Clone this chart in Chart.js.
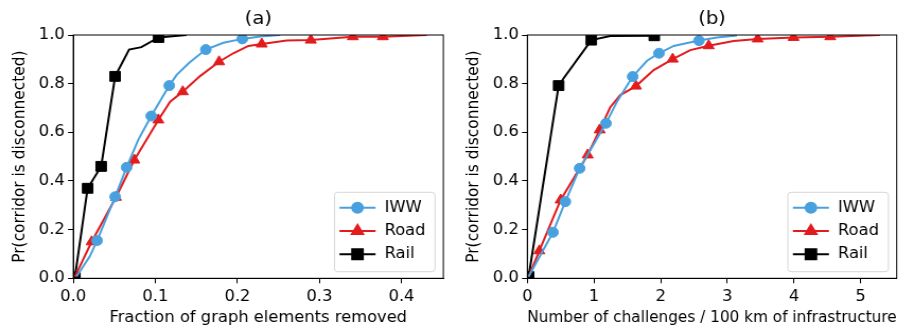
<!DOCTYPE html>
<html>
<head>
<meta charset="utf-8">
<script src="https://cdn.jsdelivr.net/npm/chart.js@4.4.1/dist/chart.umd.min.js"></script>
<style>
  html, body { margin: 0; padding: 0; background: #fff; overflow: hidden; }
  #wrap { position: relative; width: 914px; height: 331px; }
  .panel { position: absolute; top: 0; width: 431px; height: 331px; transform: scaleX(1.0603); transform-origin: 0 0; }
  .panel canvas { display: block; }
</style>
</head>
<body>
<div id="wrap">
  <div class="panel" style="left:0"><canvas id="chartA" width="431" height="331"></canvas></div>
  <div class="panel" style="left:457px"><canvas id="chartB" width="431" height="331"></canvas></div>
</div>
<script>
// ---------- data: (a) fraction of graph elements removed ----------
const iwwAX  = [0.004, 0.020, 0.029, 0.051, 0.065, 0.079, 0.095, 0.117, 0.126, 0.142, 0.1615, 0.183, 0.206, 0.228, 0.252];
const iwwAY  = [0.007, 0.089, 0.155, 0.335, 0.456, 0.568, 0.667, 0.792, 0.836, 0.888, 0.940, 0.968, 0.984, 0.994, 1.0];
const iwwAMarks = [2, 3, 4, 6, 7, 10, 12];

const roadAX = [0.002, 0.0224, 0.052, 0.0744, 0.1037, 0.118, 0.1334, 0.1545, 0.1777, 0.195, 0.2134, 0.2297, 0.260, 0.2895, 0.3407, 0.3773, 0.431];
const roadAY = [0.007, 0.150, 0.333, 0.486, 0.651, 0.726, 0.767, 0.831, 0.890, 0.925, 0.955, 0.963, 0.977, 0.979, 0.993, 0.993, 1.0];
const roadAMarks = [1, 2, 3, 4, 6, 8, 11, 13, 14, 15];

const railAX = [0.002, 0.0175, 0.034, 0.051, 0.068, 0.083, 0.104, 0.138];
const railAY = [0.005, 0.370, 0.460, 0.830, 0.940, 0.950, 0.990, 1.0];
const railAMarks = [0, 1, 2, 3, 6];

// ---------- data: (b) challenges per 100 km ----------
const iwwBX  = [0.02, 0.385, 0.57, 0.785, 1.18, 1.345, 1.58, 1.795, 1.975, 2.194, 2.574, 2.844, 3.144];
const iwwBY  = [0.007, 0.189, 0.315, 0.452, 0.637, 0.726, 0.829, 0.894, 0.925, 0.955, 0.977, 0.990, 0.998];
const iwwBMarks = [1, 2, 3, 4, 6, 8, 10];

const roadBX = [0.02, 0.18, 0.50, 0.905, 1.085, 1.244, 1.394, 1.63, 1.895, 2.18, 2.444, 2.72, 3.093, 3.455, 3.993, 4.543, 5.29];
const roadBY = [0.007, 0.113, 0.322, 0.507, 0.610, 0.703, 0.753, 0.790, 0.856, 0.901, 0.938, 0.956, 0.975, 0.984, 0.990, 0.993, 1.0];
const roadBMarks = [1, 2, 3, 4, 7, 9, 11, 13, 14, 15];

const railBX = [0.02, 0.47, 0.545, 0.96, 1.244, 1.904];
const railBY = [0.007, 0.792, 0.822, 0.979, 0.996, 0.997];
const railBMarks = [0, 1, 3, 5];

// ---------- ticks / labels ----------
const yTicks = [0, 0.2, 0.4, 0.6, 0.8, 1.0];
const xTicksA = [0, 0.1, 0.2, 0.3, 0.4];
const xTicksB = [0, 1, 2, 3, 4, 5];
const seriesNames = ['IWW', 'Road', 'Rail'];

// ==============================
// STYLE
// ==============================
const FONT = 'DejaVu Sans';
const FS = 15.4;           // base font size (canvas px)
const COLORS = { IWW: 'rgb(72,161,222)', Road: 'rgb(226,28,30)', Rail: '#000' };
const SHAPES = { IWW: 'circle', Road: 'triangle', Rail: 'rect' };
const RADII  = { IWW: 5, Road: 6, Rail: 7 };

Chart.defaults.devicePixelRatio = 1;
Chart.defaults.font.family = FONT;
Chart.defaults.color = '#000';

function toPoints(xs, ys) {
  return xs.map((x, i) => ({ x: x, y: ys[i] }));
}

function makeSet(name, xs, ys, marks) {
  const r = RADII[name];
  return {
    label: name,
    data: toPoints(xs, ys),
    borderColor: COLORS[name],
    backgroundColor: COLORS[name],
    borderWidth: 2,
    tension: 0,
    pointStyle: SHAPES[name],
    pointRadius: xs.map((_, i) => marks.includes(i) ? r : 0),
    pointBorderWidth: 1,
    pointBorderColor: COLORS[name],
    pointBackgroundColor: COLORS[name],
    clip: 0,
    showLine: true
  };
}

// frame (top/right spines) + legend box inside the axes
const framePlugin = {
  id: 'frame',
  afterDatasetsDraw(chart) {
    const { ctx, chartArea: a } = chart;
    ctx.save();
    ctx.strokeStyle = '#000';
    ctx.lineWidth = 1;
    ctx.strokeRect(a.left, a.top, a.right - a.left, a.bottom - a.top);

    // legend
    ctx.font = FS + 'px "' + FONT + '"';
    const maxW = Math.max(...seriesNames.map(n => ctx.measureText(n).width));
    const w = 47.2 + maxW + 9;
    const h = 79.4;
    const right = a.right - 7.8, bottom = a.bottom - 6.6;
    const L = right - w, T = bottom - h;
    ctx.beginPath();
    ctx.roundRect(L, T, w, h, 3);
    ctx.fillStyle = 'rgba(255,255,255,0.8)';
    ctx.fill();
    ctx.strokeStyle = '#d6d6d6';
    ctx.lineWidth = 1;
    ctx.stroke();

    const rows = [15.5, 38.8, 62];
    seriesNames.forEach((n, i) => {
      const y = T + rows[i];
      ctx.strokeStyle = COLORS[n];
      ctx.lineWidth = 2;
      ctx.beginPath();
      ctx.moveTo(L + 4.7, y);
      ctx.lineTo(L + 38.7, y);
      ctx.stroke();
      Chart.helpers.drawPoint(ctx, {
        pointStyle: SHAPES[n], radius: RADII[n], rotation: 0, borderWidth: 1
      }, L + 21.7, y);
      ctx.fillStyle = COLORS[n];
      ctx.fill();
      ctx.fillStyle = '#000';
      ctx.textBaseline = 'middle';
      ctx.textAlign = 'left';
      ctx.fillText(n, L + 47.2, y);
    });
    ctx.restore();
  }
};

function makeChart(id, opts) {
  return new Chart(document.getElementById(id), {
    type: 'scatter',
    data: { datasets: opts.datasets },
    options: {
      responsive: false,
      animation: false,
      events: [],
      layout: { padding: { left: 0, right: opts.rightPad, top: 0, bottom: 0 } },
      plugins: {
        legend: { display: false },
        tooltip: { enabled: false },
        title: {
          display: true,
          text: opts.title,
          fullSize: false,
          color: '#000',
          font: { family: FONT, size: 18.5, weight: 'normal' },
          padding: { top: 8.4, bottom: 4.4 }
        }
      },
      scales: {
        x: {
          type: 'linear',
          min: 0,
          max: opts.xMax,
          afterFit: s => { s.height = 331 - 278.3; },
          afterBuildTicks: s => { s.ticks = opts.xTicks.map(v => ({ value: v })); },
          ticks: {
            color: '#000',
            font: { family: FONT, size: FS },
            padding: 4,
            maxRotation: 0,
            autoSkip: false,
            callback: opts.xFmt
          },
          grid: { drawOnChartArea: false, drawTicks: true, tickLength: 5, color: '#000' },
          border: { display: true, color: '#000', width: 1 },
          title: {
            display: true,
            text: opts.xTitle,
            color: '#000',
            font: { family: FONT, size: FS },
            padding: { top: 0, bottom: 4 }
          }
        },
        y: {
          type: 'linear',
          min: 0,
          max: 1,
          afterFit: s => { s.width = opts.yWidth; },
          afterBuildTicks: s => { s.ticks = yTicks.map(v => ({ value: v })); },
          ticks: {
            color: '#000',
            font: { family: FONT, size: FS },
            padding: 3,
            autoSkip: false,
            callback: v => v.toFixed(1)
          },
          grid: { drawOnChartArea: false, drawTicks: true, tickLength: 5, color: '#000' },
          border: { display: true, color: '#000', width: 1 },
          title: {
            display: true,
            text: 'Pr(corridor is disconnected)',
            color: '#000',
            font: { family: FONT, size: FS },
            padding: { top: opts.yTitlePad, bottom: 0 }
          }
        }
      }
    },
    plugins: [framePlugin]
  });
}

makeChart('chartA', {
  title: '(a)',
  xTitle: 'Fraction of graph elements removed',
  xMax: 0.451,
  xTicks: xTicksA,
  xFmt: v => v.toFixed(1),
  yWidth: 69.1,
  rightPad: 12.9,
  yTitlePad: 9.6,
  datasets: [
    makeSet('IWW', iwwAX, iwwAY, iwwAMarks),
    makeSet('Road', roadAX, roadAY, roadAMarks),
    makeSet('Rail', railAX, railAY, railAMarks)
  ]
});

makeChart('chartB', {
  title: '(b)',
  xTitle: 'Number of challenges / 100 km of infrastructure',
  xMax: 5.54,
  xTicks: xTicksB,
  xFmt: v => String(v),
  yWidth: 66.3,
  rightPad: 16.3,
  yTitlePad: 6.8,
  datasets: [
    makeSet('IWW', iwwBX, iwwBY, iwwBMarks),
    makeSet('Road', roadBX, roadBY, roadBMarks),
    makeSet('Rail', railBX, railBY, railBMarks)
  ]
});
</script>
</body>
</html>
